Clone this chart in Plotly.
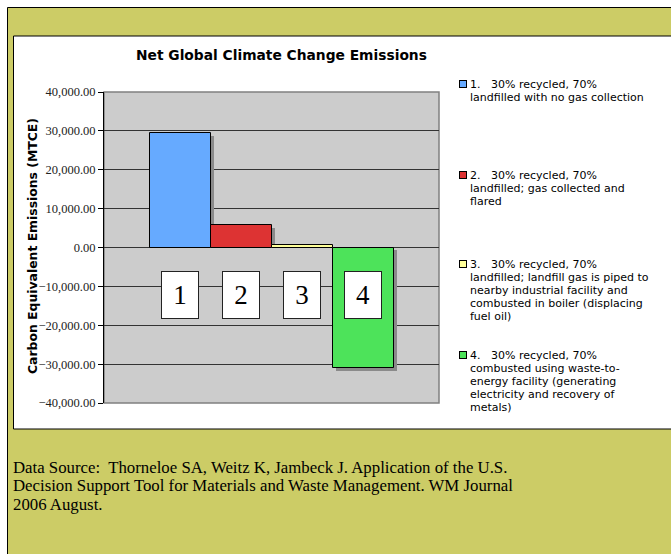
import plotly.graph_objects as go

# ---- data ----
scenario_ids = [1, 2, 3, 4]
emissions = [29500, 5900, 650, -31100]
bar_colors = ["#66AAFF", "#DD3333", "#FFFF99", "#4DE35A"]
legend_labels = [
    ["1.\u00a0\u00a0\u00a030% recycled, 70%", "landfilled with no gas collection"],
    ["2.\u00a0\u00a0\u00a030% recycled, 70%", "landfilled; gas collected and", "flared"],
    ["3.\u00a0\u00a0\u00a030% recycled, 70%", "landfilled; landfill gas is piped to",
     "nearby industrial facility and", "combusted in boiler (displacing", "fuel oil)"],
    ["4.\u00a0\u00a0\u00a030% recycled, 70%", "combusted using waste-to-",
     "energy facility (generating", "electricity and recovery of", "metals)"],
]
box_labels = ["1", "2", "3", "4"]
y_ticks = [-40000, -30000, -20000, -10000, 0, 10000, 20000, 30000, 40000]
title_text = "Net Global Climate Change Emissions"
y_title = "Carbon Equivalent Emissions (MTCE)"
source_lines = [
    "Data Source:\u00a0 Thorneloe SA, Weitz K, Jambeck J. Application of the U.S.",
    "Decision Support Tool for Materials and Waste Management. WM Journal",
    "2006 August.",
]

# ---- layout geometry (pixels) ----
W, H = 671, 554
PL, PR, PT, PB = 104, 439, 92, 403


def fx(px):
    return (px - PL) / (PR - PL)


def fy(py):
    return (PB - py) / (PB - PT)


fig = go.Figure()

# shadows
SHADOW_DX = 0.05
SHADOW_DY = 770
for i, v in zip(scenario_ids, emissions):
    fig.add_trace(go.Bar(
        x=[i + SHADOW_DX], y=[v - SHADOW_DY] if v > 0 else [v],
        base=[0] if v > 0 else [-SHADOW_DY], width=[1.0],
        marker=dict(color="#8a8a8a", line=dict(width=0)),
        showlegend=False, hoverinfo="skip"))

for i, v, c, lab in zip(scenario_ids, emissions, bar_colors, legend_labels):
    fig.add_trace(go.Bar(
        x=[i], y=[v], width=[1.0], name=" ".join(lab),
        marker=dict(color=c, line=dict(color="#000000", width=1)),
        showlegend=False))

shapes = [
    dict(type="rect", xref="paper", yref="paper", x0=fx(7.5), x1=fx(720), y0=fy(7.5), y1=fy(620),
         fillcolor="#CCCC66", line=dict(color="#000000", width=1), layer="below"),
    dict(type="rect", xref="paper", yref="paper", x0=fx(13.5), x1=fx(720), y0=fy(36), y1=fy(429),
         fillcolor="#FFFFFF", line=dict(color="#000000", width=1), layer="below"),
    dict(type="rect", xref="paper", yref="paper", x0=0, x1=1, y0=0, y1=1,
         fillcolor="#CCCCCC", line=dict(color="#808080", width=1.5), layer="below"),
]

annotations = []
for i, t in zip(scenario_ids, box_labels):
    annotations.append(dict(
        x=i, y=-12300, xref="x", yref="y", text=t, showarrow=False,
        font=dict(family="Liberation Serif", size=27, color="#000000"),
        bgcolor="#FFFFFF", bordercolor="#222222", borderwidth=1,
        width=34, height=44, xanchor="center", yanchor="middle"))

# legend (one annotation per line for Excel-like spacing)
legend_first_line = [84, 175, 264, 355]
LEG_LINE = 13.2
for c, lines, yy in zip(bar_colors, legend_labels, legend_first_line):
    annotations.append(dict(
        x=fx(462.5), y=fy(yy), xref="paper", yref="paper", text=" ", showarrow=False,
        bgcolor=c, bordercolor="#000000", borderwidth=1, width=6, height=6,
        xanchor="center", yanchor="middle", borderpad=0))
    for k, ln in enumerate(lines):
        annotations.append(dict(
            x=fx(469), y=fy(yy + k * LEG_LINE), xref="paper", yref="paper", text=ln,
            showarrow=False, align="left", xanchor="left", yanchor="middle", borderpad=0,
            font=dict(family="DejaVu Sans", size=11, color="#000000")))

annotations.append(dict(
    x=fx(32), y=fy(246), xref="paper", yref="paper", text=f"<b>{y_title}</b>",
    showarrow=False, textangle=-90, xanchor="center", yanchor="middle",
    font=dict(family="DejaVu Sans", size=12.4, color="#000000")))

annotations.append(dict(
    x=fx(281), y=fy(55), xref="paper", yref="paper", text=f"<b>{title_text}</b>",
    showarrow=False, xanchor="center", yanchor="middle",
    font=dict(family="DejaVu Sans", size=13.8, color="#000000")))

src_centers = [467, 485.5, 504]
for ln, yy in zip(source_lines, src_centers):
    annotations.append(dict(
        x=fx(12), y=fy(yy), xref="paper", yref="paper", text=ln,
        showarrow=False, align="left", xanchor="left", yanchor="middle", borderpad=0,
        font=dict(family="Liberation Serif", size=16.8, color="#000000")))

fig.update_layout(
    width=W, height=H,
    margin=dict(l=PL, r=W - PR, t=PT, b=H - PB, pad=0),
    paper_bgcolor="#FFFFFF", plot_bgcolor="rgba(0,0,0,0)",
    barmode="overlay", bargap=0,
    shapes=shapes, annotations=annotations,
    showlegend=False,
    xaxis=dict(range=[-0.254, 5.238], visible=False, fixedrange=True),
    yaxis=dict(range=[-40000, 40000], tickvals=y_ticks, tickformat=",.2f",
               showgrid=True, gridcolor="#333333", gridwidth=1,
               zeroline=True, zerolinecolor="#333333", zerolinewidth=1,
               showline=True, linecolor="#000000", linewidth=1,
               ticks="outside", ticklen=5, tickcolor="#000000",
               tickfont=dict(family="Liberation Serif", size=12.5, color="#222222"),
               automargin=False, fixedrange=True),
)

fig.write_html("out.html", config={"displayModeBar": False},
               post_script="document.body.style.margin='0';document.body.style.overflow='hidden';")
